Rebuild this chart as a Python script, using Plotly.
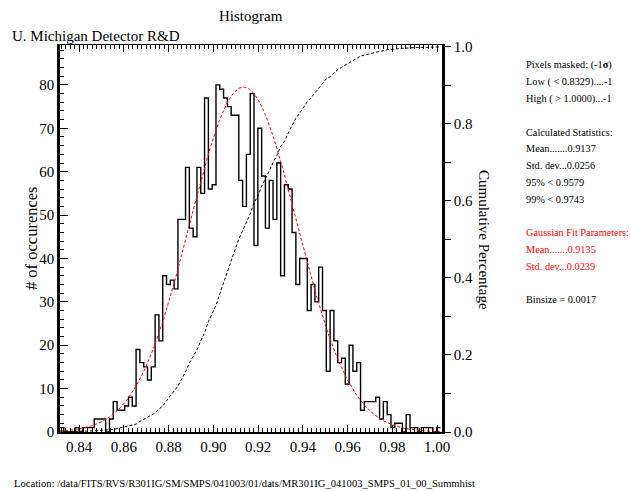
import plotly.graph_objects as go

# ---------------- data ----------------
BIN_START = 0.8315
BIN_SIZE = 0.0017
COUNTS = [1, 0, 0, 0, 1, 0, 1, 1, 1, 3,
          3, 3, 0, 3, 7, 5, 5, 6, 8, 6,
          19, 16, 15, 12, 15, 27, 21, 36, 34, 35,
          33, 49, 49, 61, 47, 45, 61, 55, 77, 56,
          57, 80, 79, 77, 75, 73, 73, 58, 52, 64,
          78, 43, 70, 59, 47, 58, 49, 62, 36, 57,
          56, 46, 34, 40, 40, 28, 34, 30, 38, 28,
          14, 28, 21, 16, 17, 11, 20, 14, 16, 5,
          7, 7, 7, 8, 3, 7, 4, 1, 2, 2,
          0, 4, 1, 1, 0, 1, 1, 1, 0, 1]
GAUSS_MEAN = 0.9135
GAUSS_SD = 0.0239
GAUSS_PEAK = 79.5
X_TICK_LABELS = ["0.84", "0.86", "0.88", "0.90", "0.92", "0.94", "0.96", "0.98", "1.00"]
Y_TICK_LABELS = ["0", "10", "20", "30", "40", "50", "60", "70", "80"]
Y2_TICK_LABELS = ["0.0", "0.2", "0.4", "0.6", "0.8", "1.0"]
INFO_LINES = [
    ("Pixels masked: (-1<b>σ</b>)", "black"),
    ("Low ( < 0.8329)....-1", "black"),
    ("High ( > 1.0000)...-1", "black"),
    ("", "black"),
    ("Calculated Statistics:", "black"),
    ("Mean.......0.9137", "black"),
    ("Std. dev...0.0256", "black"),
    ("95% < 0.9579", "black"),
    ("99% < 0.9743", "black"),
    ("", "black"),
    ("Gaussian Fit Parameters:", "red"),
    ("Mean.......0.9135", "red"),
    ("Std. dev...0.0239", "red"),
    ("", "black"),
    ("Binsize = 0.0017", "black"),
]
LOCATION = "Location: /data/FITS/RVS/R301IG/SM/SMPS/041003/01/dats/MR301IG_041003_SMPS_01_00_Summhist"

# ---------------- derived ----------------
import math
nb = len(COUNTS)
edges = [BIN_START + BIN_SIZE * i for i in range(nb + 1)]
step_x = edges[:-1] + [edges[-1]]
step_y = COUNTS + [COUNTS[-1]]
total = sum(COUNTS)
cum = []
s = 0
for c in COUNTS:
    s += c
    cum.append(s / total)
cum_x = [edges[0]] + edges[1:]
cum_y = [0.0] + cum

XMIN, XMAX = BIN_START, 1.0022
gx = [XMIN + (XMAX - XMIN) * i / 400 for i in range(401)]
gy = [GAUSS_PEAK * math.exp(-0.5 * ((v - GAUSS_MEAN) / GAUSS_SD) ** 2) for v in gx]

# ---------------- layout helpers ----------------
W_, H_ = 630, 491
L, R, T, B = 60, 442, 45, 432
PW, PH = R - L, B - T
def px(x):
    return (x - L) / PW
def py(y):
    return (B - y) / PH

FONT = "Liberation Serif"

fig = go.Figure()
fig.add_trace(go.Scatter(x=step_x, y=step_y, mode="lines", line=dict(color="black", width=1.4, shape="hv"),
                         hoverinfo="skip", showlegend=False))
fig.add_trace(go.Scatter(x=gx, y=gy, mode="lines", xaxis="x2", yaxis="y",
                         line=dict(color="red", width=1, dash="3px,2px"), showlegend=False))
fig.add_trace(go.Scatter(x=cum_x, y=cum_y, mode="lines", yaxis="y2",
                         line=dict(color="black", width=1, dash="3px,2px"), showlegend=False))

xtickvals = [float(t) for t in X_TICK_LABELS]
ytickvals = [float(t) for t in Y_TICK_LABELS]
y2tickvals = [float(t) for t in Y2_TICK_LABELS]

fig.update_layout(
    width=W_, height=H_,
    margin=dict(l=L, r=W_ - R, t=T, b=H_ - B, pad=0),
    paper_bgcolor="white", plot_bgcolor="white",
    font=dict(family=FONT, size=15, color="black"),
    xaxis=dict(range=[XMIN, XMAX], tickvals=xtickvals, ticktext=X_TICK_LABELS,
               ticks="inside", ticklen=7, tickwidth=1, tickcolor="black",
               minor=dict(dtick=0.002, tick0=0.84, ticks="inside", ticklen=4, tickcolor="black", tickwidth=1),
               showline=True, linecolor="black", linewidth=2, showgrid=False, zeroline=False,
               tickfont=dict(family=FONT, size=15)),
    xaxis2=dict(range=[XMIN, XMAX], overlaying="x", side="top", anchor="y", matches="x",
                tickvals=xtickvals, showticklabels=False,
                ticks="inside", ticklen=7, tickwidth=1, tickcolor="black",
                minor=dict(dtick=0.002, tick0=0.84, ticks="inside", ticklen=4, tickcolor="black", tickwidth=1),
                showline=True, linecolor="black", linewidth=1, showgrid=False, zeroline=False),
    yaxis=dict(range=[0, 89.2], tickvals=ytickvals, ticktext=Y_TICK_LABELS,
               ticks="inside", ticklen=8, tickwidth=1, tickcolor="black",
               minor=dict(dtick=2, tick0=0, ticks="inside", ticklen=4, tickcolor="black", tickwidth=1),
               showline=True, linecolor="black", linewidth=2.5, showgrid=False, zeroline=False,
               tickfont=dict(family=FONT, size=15)),
    yaxis2=dict(range=[0, 1.005], overlaying="y", side="right", anchor="x",
                tickvals=y2tickvals, ticktext=Y2_TICK_LABELS,
                ticks="outside", ticklen=6, tickwidth=1, tickcolor="black",
                minor=dict(dtick=0.1, tick0=0, ticks="outside", ticklen=6, tickcolor="black", tickwidth=1),
                showline=True, linecolor="black", linewidth=2.5, showgrid=False, zeroline=False,
                tickfont=dict(family=FONT, size=15)),
)

ann = []
ann.append(dict(text="Histogram", x=px(251), y=py(16), xanchor="center", yanchor="middle",
                font=dict(size=15)))
ann.append(dict(text="U. Michigan Detector R&amp;D", x=px(10), y=py(36), xanchor="left", yanchor="middle",
                font=dict(size=15)))
ann.append(dict(text="# of occurences", x=px(32), y=py(238), xanchor="center", yanchor="middle",
                textangle=-90, font=dict(size=16.5)))
ann.append(dict(text="Cumulative Percentage", x=px(484), y=py(240), xanchor="center", yanchor="middle",
                textangle=90, font=dict(size=15)))
line_y0, line_dy = 65, 16.75
for i, (txt, col) in enumerate(INFO_LINES):
    if not txt:
        continue
    ann.append(dict(text=txt, x=px(524), y=py(line_y0 + i * line_dy), xanchor="left", yanchor="middle",
                    font=dict(size=10.3, color=col)))
ann.append(dict(text=LOCATION, x=px(12), y=py(483), xanchor="left", yanchor="middle",
                font=dict(size=10.6)))
for a in ann:
    a.update(xref="paper", yref="paper", showarrow=False)
fig.update_layout(annotations=ann)

fig.write_html("out.html")
